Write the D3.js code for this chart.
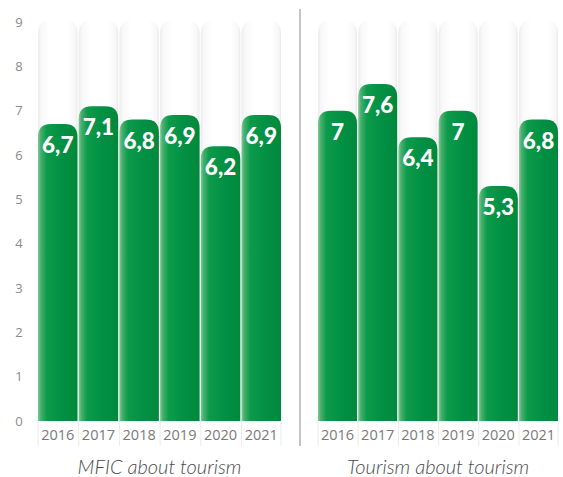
<!DOCTYPE html>
<html>
<head>
<meta charset="utf-8">
<script src="https://cdn.jsdelivr.net/npm/d3@7"></script>
<style>
  html, body { margin: 0; padding: 0; background: #fff; }
  svg { display: block; }
</style>
</head>
<body>
<svg id="chart" width="563" height="477"></svg>
<script>
// Ratings by year for the two surveys
const years = ["2016", "2017", "2018", "2019", "2020", "2021"];
const mficValues = [6.7, 7.1, 6.8, 6.9, 6.2, 6.9];
const tourismValues = [7, 7.6, 6.4, 7, 5.3, 6.8];
const yTicks = [0, 1, 2, 3, 4, 5, 6, 7, 8, 9];
const panelTitles = ["MFIC about tourism", "Tourism about tourism"];

const svg = d3.select("#chart");

const y = d3.scaleLinear().domain([0, 9]).range([421, 22]);
const yearBottom = 446;

const panels = [
  { title: panelTitles[0], values: mficValues, x0: 38, x1: 281 },
  { title: panelTitles[1], values: tourismValues, x0: 318, x1: 558 }
];

const defs = svg.append("defs");

// Green bar gradient (lighter left edge, darker right)
const g1 = defs.append("linearGradient").attr("id", "barGrad")
  .attr("x1", "0%").attr("x2", "100%").attr("y1", "0%").attr("y2", "0%");
[["0%", "#86c89c"], ["7%", "#45b06b"], ["22%", "#0c9a4a"], ["55%", "#039145"], ["100%", "#00893d"]]
  .forEach(([o, c]) => g1.append("stop").attr("offset", o).attr("stop-color", c));

// Pale background column gradient
const g2 = defs.append("linearGradient").attr("id", "bgGrad")
  .attr("x1", "0%").attr("x2", "100%").attr("y1", "0%").attr("y2", "0%");
[["0%", "#ececec"], ["8%", "#f8f8f8"], ["30%", "#ffffff"], ["75%", "#ffffff"], ["94%", "#f7f7f7"], ["100%", "#e9e9e9"]]
  .forEach(([o, c]) => g2.append("stop").attr("offset", o).attr("stop-color", c));

// Path for a column with rounded top corners and a square bottom
function roundTop(x, top, w, bottom, r) {
  r = Math.min(r, w / 2, (bottom - top));
  return `M${x},${bottom}V${top + r}Q${x},${top} ${x + r},${top}H${x + w - r}Q${x + w},${top} ${x + w},${top + r}V${bottom}Z`;
}

const fmt = v => String(v).replace(".", ",");

panels.forEach(p => {
  const x = d3.scaleBand().domain(years).range([p.x0, p.x1]).paddingInner(0.03).paddingOuter(0);
  const g = svg.append("g");

  // background columns
  g.selectAll("path.bg").data(years).join("path")
    .attr("class", "bg")
    .attr("d", d => roundTop(x(d), y(9.05), x.bandwidth(), y(0), 14))
    .attr("fill", "url(#bgGrad)");

  // year label cell separators
  const edges = years.map(d => x(d)).concat([p.x1]);
  g.selectAll("line.sep").data(edges).join("line")
    .attr("class", "sep")
    .attr("x1", d => d).attr("x2", d => d)
    .attr("y1", y(0)).attr("y2", yearBottom)
    .attr("stroke", "#ebebeb").attr("stroke-width", 1);

  // bars
  g.selectAll("path.bar").data(p.values).join("path")
    .attr("class", "bar")
    .attr("d", (v, i) => roundTop(x(years[i]), y(v), x.bandwidth(), y(0), 13))
    .attr("fill", "url(#barGrad)");

  // value labels
  g.selectAll("text.val").data(p.values).join("text")
    .attr("class", "val")
    .attr("x", (v, i) => x(years[i]) + x.bandwidth() / 2)
    .attr("y", v => y(v) + 29)
    .attr("text-anchor", "middle")
    .attr("fill", "#fff")
    .attr("font-family", "Lato, 'Open Sans', sans-serif")
    .attr("font-weight", 900)
    .attr("font-size", 22.5)
    .text(fmt);

  // year labels
  g.selectAll("text.yr").data(years).join("text")
    .attr("class", "yr")
    .attr("x", d => x(d) + x.bandwidth() / 2)
    .attr("y", 440)
    .attr("text-anchor", "middle")
    .attr("fill", "#7a7a7a")
    .attr("font-family", "'Open Sans', sans-serif")
    .attr("font-size", 14.5)
    .text(d => d);

  // panel title
  g.append("text")
    .attr("x", (p.x0 + p.x1) / 2)
    .attr("y", 474)
    .attr("text-anchor", "middle")
    .attr("fill", "#4a4a4a")
    .attr("font-family", "Lato, sans-serif")
    .attr("font-style", "italic")
    .attr("font-weight", 300)
    .attr("font-size", 20)
    .text(p.title);
});

// y axis tick labels
svg.append("g").selectAll("text").data(yTicks).join("text")
  .attr("x", 19)
  .attr("y", d => y(d))
  .attr("dy", "0.35em")
  .attr("text-anchor", "middle")
  .attr("fill", "#8a8a8a")
  .attr("font-family", "'Open Sans', sans-serif")
  .attr("font-size", 13)
  .text(d => d);

// divider between panels
svg.append("line")
  .attr("x1", 300).attr("x2", 300)
  .attr("y1", 9).attr("y2", yearBottom)
  .attr("stroke", "#b0b0b0").attr("stroke-width", 1.5);
</script>
</body>
</html>
